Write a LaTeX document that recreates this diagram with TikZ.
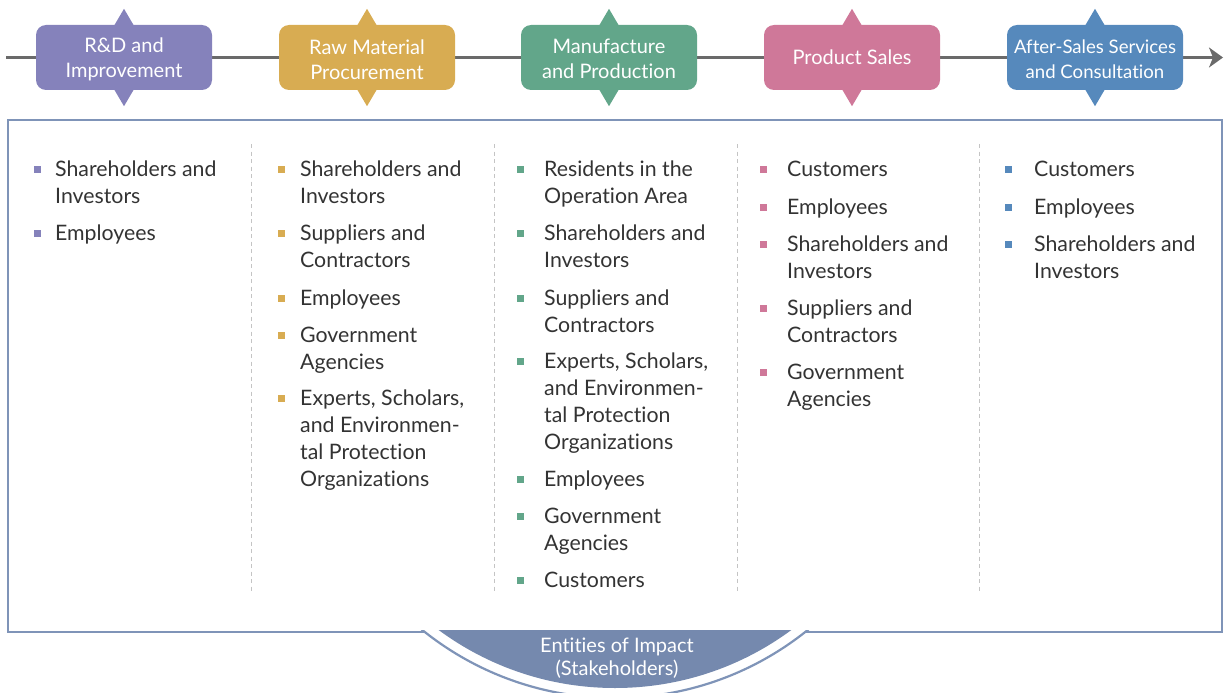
\documentclass[tikz,border=0pt]{standalone}
\usepackage{fontspec}
\setmainfont{Lato}[Ligatures=NoCommon]
\usetikzlibrary{arrows.meta}
\definecolor{cpur}{HTML}{8582BB}
\definecolor{cgold}{HTML}{D8AC52}
\definecolor{cgreen}{HTML}{62A68A}
\definecolor{cpink}{HTML}{CF7899}
\definecolor{cblue}{HTML}{5689BC}
\definecolor{cframe}{HTML}{7F94B8}
\definecolor{cbfill}{HTML}{7589AE}
\definecolor{clinegray}{HTML}{6A6A6A}
\definecolor{csepgray}{HTML}{C4C4C4}
\definecolor{ctxt}{HTML}{333333}
\begin{document}
\begin{tikzpicture}[x=1pt,y=-1pt,
  hbox/.style={rounded corners=10pt, minimum width=176pt, minimum height=65pt, inner sep=0pt},
  htext/.style={text=white, align=center, inner sep=0pt},
  item/.style={anchor=north west, inner sep=0pt, align=left, text=ctxt, font=\fontsize{21.3}{27}\selectfont},
  sq/.style={minimum size=7pt, inner sep=0pt},
  sepline/.style={draw=csepgray, line width=1pt, dash pattern=on 4pt off 3.5pt},
  framestyle/.style={draw=cframe, line width=2.5pt},
]
\useasboundingbox (0,0) rectangle (1224,693);

% timeline
\coordinate (tl0) at (6,57.5);
\coordinate (tl1) at (1223,57.5);
\draw[line width=2.2pt, clinegray, -{Stealth[length=14pt,width=20pt,inset=4pt]}] (tl0) -- (tl1);

% header boxes
\foreach \cx/\col/\nm/\fs/\dy/\txt in {124/cpur/h1/20/2/{R\&D and\\Improvement},
                              367/cgold/h2/20/2/{Raw Material\\Procurement},
                              609/cgreen/h3/20/1/{Manufacture\\and Production},
                              852/cpink/h4/20/0/{Product Sales},
                              1095/cblue/h5/18.6/2/{After-Sales Services\\and Consultation}}{
  \node[hbox, fill=\col] (\nm) at (\cx,57.5) {};
  \fill[\col] ([xshift=-10pt,yshift=-1pt]\nm.north) -- ([yshift=16pt]\nm.north) -- ([xshift=10pt,yshift=-1pt]\nm.north) -- cycle;
  \fill[\col] ([xshift=-10pt,yshift=1pt]\nm.south) -- ([yshift=-16pt]\nm.south) -- ([xshift=10pt,yshift=1pt]\nm.south) -- cycle;
  \node[htext, font=\fontsize{\fs}{25}\selectfont] (\nm t) at ([yshift=-\dy pt]\nm.center) {\txt};
}

% main frame
\coordinate (f0) at (8,120);
\coordinate (f1) at (1222,632);
\draw[framestyle] (f0) rectangle (f1);

% bottom segment
\coordinate (sc) at (615,391);
\begin{scope}
  \clip (300,630.5) rectangle (950,700);
  \fill[white] (sc) circle[radius=307pt];
  \draw[cframe, line width=2.2pt] (sc) circle[radius=307pt];
  \fill[cbfill] (sc) circle[radius=297pt];
\end{scope}
\node[text=white, align=center, font=\fontsize{20}{23}\selectfont, inner sep=0pt] (stake) at (617,658.5) {Entities of Impact\\(Stakeholders)};

% separators
\foreach \sx/\nm in {251/s1,494/s2,737/s3,979/s4}{
  \coordinate (\nm t) at (\sx,144);
  \coordinate (\nm b) at (\sx,592);
  \draw[sepline] (\nm t) -- (\nm b);
}

% column 1
\node[sq, fill=cpur] (b1a) at (37,169) {};
\node[item] (c1a) at (55,161) {Shareholders and\\Investors};
\node[sq, fill=cpur] (b1b) at (37,233) {};
\node[item] (c1b) at (55,225) {Employees};

% column 2
\node[sq, fill=cgold] (b2a) at (281,169) {};
\node[item] (c2a) at (300,161) {Shareholders and\\Investors};
\node[sq, fill=cgold] (b2b) at (281,233) {};
\node[item] (c2b) at (300,225) {Suppliers and\\Contractors};
\node[sq, fill=cgold] (b2c) at (281,298) {};
\node[item] (c2c) at (300,290) {Employees};
\node[sq, fill=cgold] (b2d) at (281,335) {};
\node[item] (c2d) at (300,327) {Government\\Agencies};
\node[sq, fill=cgold] (b2e) at (281,398) {};
\node[item] (c2e) at (300,390) {Experts, Scholars,\\and Environmen-\\tal Protection\\Organizations};

% column 3
\node[sq, fill=cgreen] (b3a) at (520,169) {};
\node[item] (c3a) at (544,161) {Residents in the\\Operation Area};
\node[sq, fill=cgreen] (b3b) at (520,233) {};
\node[item] (c3b) at (544,225) {Shareholders and\\Investors};
\node[sq, fill=cgreen] (b3c) at (520,298) {};
\node[item] (c3c) at (544,290) {Suppliers and\\Contractors};
\node[sq, fill=cgreen] (b3d) at (520,361) {};
\node[item] (c3d) at (544,353) {Experts, Scholars,\\and Environmen-\\tal Protection\\Organizations};
\node[sq, fill=cgreen] (b3e) at (520,479) {};
\node[item] (c3e) at (544,471) {Employees};
\node[sq, fill=cgreen] (b3f) at (520,516) {};
\node[item] (c3f) at (544,508) {Government\\Agencies};
\node[sq, fill=cgreen] (b3g) at (520,580) {};
\node[item] (c3g) at (544,572) {Customers};

% column 4
\node[sq, fill=cpink] (b4a) at (763,169) {};
\node[item] (c4a) at (787,161) {Customers};
\node[sq, fill=cpink] (b4b) at (763,207) {};
\node[item] (c4b) at (787,199) {Employees};
\node[sq, fill=cpink] (b4c) at (763,244) {};
\node[item] (c4c) at (787,236) {Shareholders and\\Investors};
\node[sq, fill=cpink] (b4d) at (763,308) {};
\node[item] (c4d) at (787,300) {Suppliers and\\Contractors};
\node[sq, fill=cpink] (b4e) at (763,372) {};
\node[item] (c4e) at (787,364) {Government\\Agencies};

% column 5
\node[sq, fill=cblue] (b5a) at (1008,169) {};
\node[item] (c5a) at (1034,161) {Customers};
\node[sq, fill=cblue] (b5b) at (1008,207) {};
\node[item] (c5b) at (1034,199) {Employees};
\node[sq, fill=cblue] (b5c) at (1008,244) {};
\node[item] (c5c) at (1034,236) {Shareholders and\\Investors};
\end{tikzpicture}
\end{document}
